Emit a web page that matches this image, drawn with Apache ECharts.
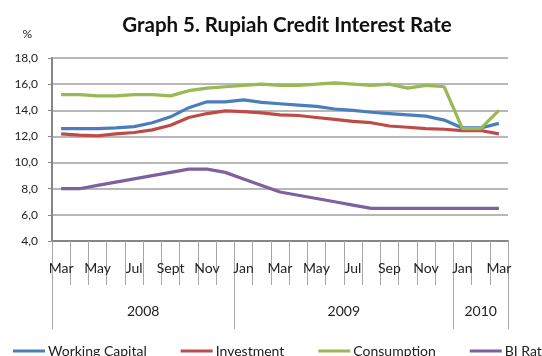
<!DOCTYPE html>
<html>
<head>
<meta charset="utf-8">
<script src="https://cdn.jsdelivr.net/npm/echarts@6/dist/echarts.min.js"></script>
<style>
html,body{margin:0;padding:0;background:#fff;}
#chart{width:542px;height:356px;}
</style>
</head>
<body>
<div id="chart"></div>
<script>
// Months Mar 2008 .. Mar 2010
var months = ['Mar','Apr','May','Jun','Jul','Aug','Sept','Oct','Nov','Dec',
              'Jan','Feb','Mar','Apr','May','Jun','Jul','Aug','Sep','Oct','Nov','Dec',
              'Jan','Feb','Mar'];
var years = ['2008','2009','2010'];
var yearMonthCounts = [10, 12, 3];

var workingCapital = [12.6,12.6,12.6,12.65,12.75,13.05,13.5,14.2,14.65,14.65,14.8,14.6,14.5,14.4,14.3,14.1,14.0,13.85,13.75,13.65,13.55,13.25,12.65,12.65,13.0];
var investment     = [12.2,12.1,12.05,12.2,12.3,12.5,12.85,13.45,13.75,13.95,13.9,13.8,13.65,13.6,13.45,13.3,13.15,13.05,12.8,12.7,12.6,12.55,12.45,12.45,12.2];
var consumption    = [15.2,15.2,15.1,15.1,15.2,15.2,15.1,15.5,15.7,15.8,15.9,16.0,15.9,15.9,16.0,16.1,16.0,15.9,16.0,15.7,15.9,15.8,12.6,12.6,14.0];
var biRate         = [8.0,8.0,8.25,8.5,8.75,9.0,9.25,9.5,9.5,9.25,8.75,8.25,7.75,7.5,7.25,7.0,6.75,6.5,6.5,6.5,6.5,6.5,6.5,6.5,6.5];

var seriesNames = ['Working Capital','Investment','Consumption','BI Rate'];
var colors = ['#4A7EBB','#BE4B48','#98B954','#7D60A0'];

// build half-month slots for the year axis (boundaryGap false, 2 slots per month)
var totalMonths = months.length;
var yearSlots = [];
for (var k = 0; k <= totalMonths * 2; k++) yearSlots.push('');
var boundaries = [0];
var pos = 0;
for (var y = 0; y < years.length; y++) {
  yearSlots[pos * 2 + yearMonthCounts[y]] = years[y];
  pos += yearMonthCounts[y];
  boundaries.push(pos * 2);
}

var FONT = 'Lato';
var chart = echarts.init(document.getElementById('chart'), null, {renderer:'canvas'});
var allData = [workingCapital, investment, consumption, biRate];

chart.setOption({
  animation: false,
  color: colors,
  title: {
    text: 'Graph 5. Rupiah Credit Interest Rate',
    left: 287, textAlign: 'center', top: 15, padding: 0,
    textStyle: {fontFamily: FONT, fontWeight: 'bold', fontSize: 20.5, color: '#111'}
  },
  legend: {
    data: seriesNames,
    left: 13, top: 344, width: 700, padding: 0,
    icon: 'rect', itemWidth: 32, itemHeight: 3, itemGap: 34,
    textStyle: {fontFamily: FONT, fontSize: 14, color: '#222', padding: [0,0,0,-2]}
  },
  grid: {left: 52, right: 34, top: 58, bottom: 115, containLabel: false},
  xAxis: [{
    type: 'category',
    data: months,
    boundaryGap: true,
    axisLine: {lineStyle: {color: '#868686', width: 2}},
    axisTick: {show: true, interval: 0, length: 44, lineStyle: {color: '#a6a6a6', width: 1}},
    axisLabel: {interval: 1, margin: 20, fontFamily: FONT, fontSize: 14, color: '#222'},
    splitLine: {show: false}
  }, {
    type: 'category',
    data: yearSlots,
    boundaryGap: false,
    position: 'bottom',
    axisLine: {show: false},
    axisTick: {show: true, length: 88, lineStyle: {color: '#a6a6a6', width: 1},
      interval: function (idx) { return boundaries.indexOf(idx) >= 0; }},
    axisLabel: {margin: 63, fontFamily: FONT, fontSize: 14, color: '#222',
      interval: function (idx, val) { return val !== ''; }},
    splitLine: {show: false}
  }],
  yAxis: {
    type: 'value', min: 4, max: 18, interval: 2,
    name: '%', nameLocation: 'end', nameGap: 18,
    nameTextStyle: {fontFamily: FONT, fontSize: 12, color: '#222', align: 'right', padding: [0, 20, 0, 0]},
    axisLine: {show: true, lineStyle: {color: '#868686', width: 2}},
    axisTick: {show: true, length: 4, lineStyle: {color: '#868686'}},
    axisLabel: {margin: 14, fontFamily: FONT, fontSize: 12, color: '#222',
      formatter: function (v) { return v.toFixed(1).replace('.', ','); }},
    splitLine: {lineStyle: {color: '#a0a0a0', width: 1.5}}
  },
  series: seriesNames.map(function (n, i) {
    return {
      name: n, type: 'line', data: allData[i], xAxisIndex: 0,
      symbol: 'none', lineStyle: {width: 3.2, color: colors[i]}, itemStyle: {color: colors[i]}
    };
  })
});
</script>
</body>
</html>
